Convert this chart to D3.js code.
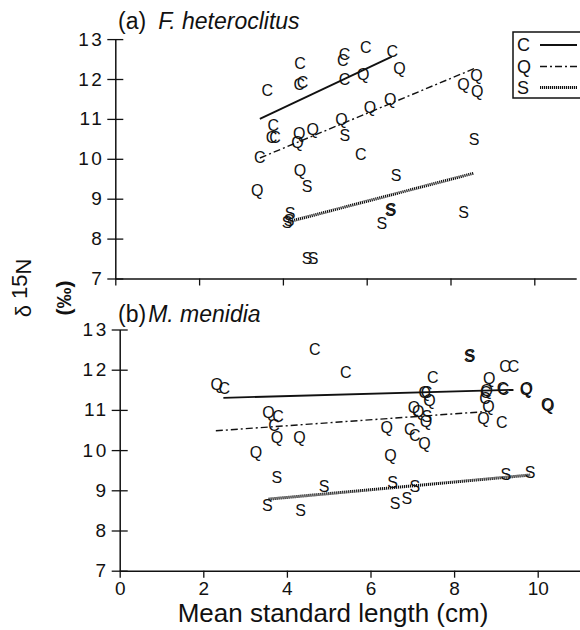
<!DOCTYPE html>
<html><head><meta charset="utf-8">
<script src="https://cdn.jsdelivr.net/npm/d3@7"></script>
<style>
html,body{margin:0;padding:0;background:#fff;}
svg{display:block;font-family:"Liberation Sans",Arial,Helvetica,sans-serif;}
</style></head>
<body><svg id="chart" width="580" height="630"></svg>
<script>
// ---------- data ----------
const xTicks = [0, 2, 4, 6, 8, 10];
const yTicks = [7, 8, 9, 10, 11, 12, 13];
const seriesNames = ["C", "Q", "S"];

// Panel (a) F. heteroclitus  [length, d15N]
const aC = [[3.63,11.71],[4.41,12.40],[4.39,11.86],[4.47,11.92],[5.47,12.63],[5.43,12.46],[5.98,12.80],[6.61,12.70],[5.47,12.00],[3.77,10.84],[3.73,10.55],[3.81,10.55],[3.45,10.05],[5.86,10.11]];
const aQ = [[5.92,12.11],[6.78,12.28],[6.56,11.50],[6.08,11.30],[5.40,11.00],[4.71,10.73],[4.39,10.63],[4.35,10.42],[4.41,9.71],[3.39,9.21],[8.31,11.88],[8.62,12.09],[8.64,11.69]];
const aS = [[5.48,10.59],[4.58,9.30],[6.70,9.59],[4.17,8.64],[4.10,8.42],[4.15,8.45],[6.56,8.71],[6.58,8.73],[6.36,8.38],[4.58,7.50],[4.72,7.50],[8.56,10.48],[8.31,8.67]];
const aFitC = [[3.45,11.00],[6.60,12.56]];
const aFitQ = [[3.45,10.02],[8.61,12.28]];
const aFitS = [[4.13,8.42],[8.56,9.64]];

// Panel (b) M. menidia
const bC = [[4.67,12.51],[5.41,11.93],[2.50,11.54],[3.79,10.83],[3.69,10.62],[7.49,11.81],[9.22,12.09],[9.42,12.09],[9.16,11.54],[9.18,11.51],[6.94,10.52],[7.06,10.38],[7.34,11.43],[8.76,11.45],[8.74,11.29],[9.14,10.70]];
const bQ = [[2.32,11.64],[3.56,10.93],[3.76,10.33],[4.30,10.32],[3.26,9.94],[8.84,11.79],[9.74,11.54],[9.72,11.52],[10.25,11.12],[10.23,11.14],[7.30,11.45],[7.41,11.25],[7.04,11.06],[7.14,10.96],[7.33,10.72],[7.29,10.18],[6.39,10.58],[6.48,9.88],[8.78,11.50],[8.82,11.10],[8.70,10.79]];
const bS = [[8.36,12.34],[8.38,12.35],[7.35,10.85],[3.76,9.32],[4.89,9.11],[3.53,8.62],[4.33,8.51],[6.53,9.19],[7.06,9.09],[6.59,8.69],[6.87,8.80],[9.24,9.41],[9.82,9.46]];
const bFitC = [[2.48,11.30],[9.42,11.50]];
const bFitQ = [[2.30,10.48],[8.78,10.96]];
const bFitS = [[3.56,8.78],[9.82,9.38]];

// ---------- drawing ----------
const svg = d3.select("#chart");
const INK = "#111";
const lineStyles = {
  C: {w: 1.8, dash: null},
  Q: {w: 1.4, dash: "7,3,2,3"},
  S: {w: 3, dash: "1.2,0.8"}
};

function panel(cfg) {
  const x = d3.scaleLinear().domain([0, 11]).range([cfg.x0, cfg.x0 + cfg.ux * 11]);
  const y = d3.scaleLinear().domain([7, 13]).range([cfg.y7, cfg.y7 - cfg.uy * 6]);
  const g = svg.append("g");

  // x axis
  const xa = g.append("g").attr("transform", `translate(0,${cfg.y7})`)
    .call(d3.axisBottom(x).tickValues(xTicks).tickSizeInner(7).tickSizeOuter(0)
      .tickFormat(cfg.xLabels ? d3.format("d") : ""));
  xa.select(".domain").attr("stroke", INK).attr("stroke-width", 1.5);
  xa.selectAll(".tick line").attr("stroke", INK).attr("stroke-width", 1.3);
  xa.selectAll(".tick text").attr("font-size", 19).attr("fill", INK).attr("y", 11).attr("font-family", "inherit");

  // y axis
  const ya = g.append("g").attr("transform", `translate(${cfg.x0},0)`)
    .call(d3.axisLeft(y).tickValues(yTicks).tickSizeInner(8).tickSizeOuter(0).tickFormat(d3.format("d")));
  ya.select(".domain").attr("stroke", INK).attr("stroke-width", 1.5);
  ya.selectAll(".tick line").attr("stroke", INK).attr("stroke-width", 1.3).attr("x1", -8).attr("x2", 8);
  ya.selectAll(".tick text").attr("font-size", 19).attr("fill", INK).attr("x", -11)
    .attr("letter-spacing", 2.5).attr("font-family", "inherit");

  // fit lines
  const line = d3.line().x(d => x(d[0])).y(d => y(d[1]));
  cfg.fits.forEach((f, i) => {
    const st = lineStyles[seriesNames[i]];
    g.append("path").attr("d", line(f)).attr("fill", "none").attr("stroke", INK)
      .attr("stroke-width", st.w).attr("stroke-dasharray", st.dash);
  });

  // letter markers
  cfg.points.forEach((pts, i) => {
    g.append("g").selectAll("text").data(pts).join("text")
      .attr("x", d => x(d[0])).attr("y", d => y(d[1]))
      .attr("text-anchor", "middle").attr("dy", "0.36em")
      .attr("font-size", 16).attr("fill", INK)
      .text(seriesNames[i]);
  });

  // title
  const t = g.append("text").attr("x", cfg.tx).attr("y", cfg.ty).attr("font-size", 23).attr("fill", INK);
  t.append("tspan").text(cfg.tag);
  t.append("tspan").attr("font-style", "italic").attr("dx", cfg.tgap).text(cfg.species);
  return {x, y};
}

panel({x0: 115.3, ux: 41.9, y7: 278.5, uy: 39.9, xLabels: false,
  points: [aC, aQ, aS], fits: [aFitC, aFitQ, aFitS],
  tx: 118, ty: 29, tag: "(a)", tgap: 12, species: "F. heteroclitus"});
panel({x0: 119.7, ux: 41.8, y7: 570.7, uy: 40.2, xLabels: true,
  points: [bC, bQ, bS], fits: [bFitC, bFitQ, bFitS],
  tx: 118, ty: 322, tag: "(b)", tgap: 2, species: "M. menidia"});

// x axis title
svg.append("text").attr("x", 333).attr("y", 622).attr("text-anchor", "middle")
  .attr("font-size", 26).attr("fill", INK).text("Mean standard length (cm)");

// y axis title
const yt = svg.append("text").attr("transform", "translate(31,288) rotate(-90)")
  .attr("text-anchor", "middle").attr("font-size", 22).attr("fill", INK);
yt.append("tspan").text("δ ");
yt.append("tspan").attr("dy", -4).text("15");
yt.append("tspan").attr("dy", 4).text("N");
svg.append("text").attr("transform", "translate(71,298) rotate(-90)")
  .attr("text-anchor", "middle").attr("font-size", 21).attr("font-weight", "bold")
  .attr("fill", INK).text("(‰)");

// legend
const lg = svg.append("g");
lg.append("rect").attr("x", 513).attr("y", 32).attr("width", 80).attr("height", 66)
  .attr("fill", "#fff").attr("stroke", INK).attr("stroke-width", 1.5);
const legY = [45, 66.5, 87.5];
seriesNames.forEach((s, i) => {
  lg.append("text").attr("x", 517).attr("y", legY[i]).attr("dy", "0.36em")
    .attr("font-size", 18).attr("fill", INK).text(s);
  const st = lineStyles[s];
  lg.append("line").attr("x1", 540).attr("x2", 577).attr("y1", legY[i]).attr("y2", legY[i])
    .attr("stroke", INK).attr("stroke-width", st.w).attr("stroke-dasharray", st.dash);
});
</script></body></html>
